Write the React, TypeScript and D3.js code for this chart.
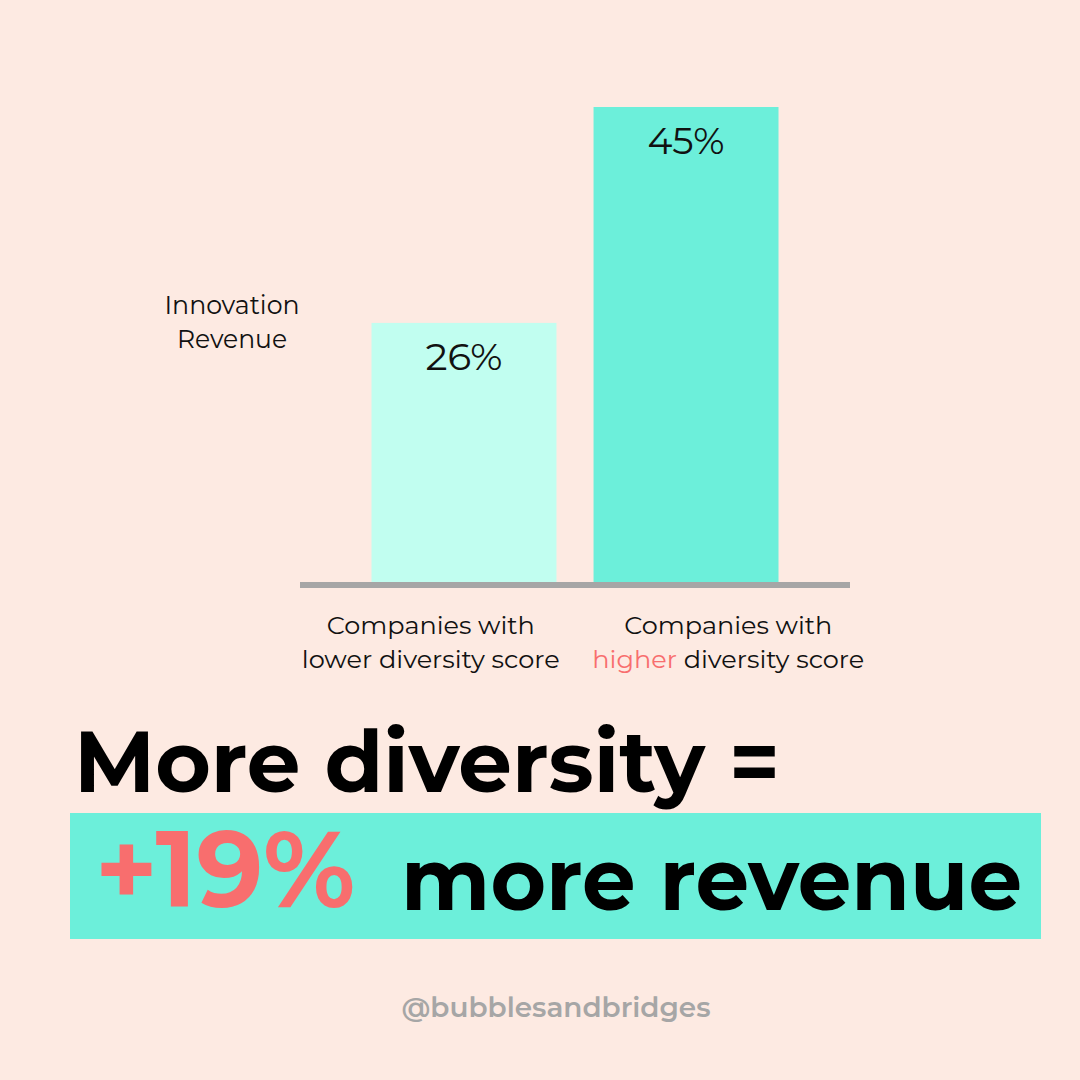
import React from "react";
import * as d3 from "d3";

const categories = ["lower", "higher"];
const values = [26, 45];
const valueLabels = ["26%", "45%"];
const catLine1 = ["Companies with", "Companies with"];
const catLine2Highlight = ["", "higher"];
const catLine2Rest = ["lower diversity score", " diversity score"];
const yAxisTitle = ["Innovation", "Revenue"];
const headline1 = "More diversity =";
const headlineNum = "+19%";
const headlineRest = "more revenue";
const handle = "@bubblesandbridges";

const BG = "#FDEAE2";
const BAR_COLORS = ["#C1FEF0", "#6CEFDA"];
const TEAL = "#6CEFDA";
const CORAL = "#F86E6E";
const GRAY = "#A6A6A6";
const FONT = "Montserrat, Inter, 'DejaVu Sans', sans-serif";

export default function App() {
  const W = 1080, H = 1080;
  const x = d3.scaleBand<string>().domain(categories).range([300, 850]).paddingInner(0.167).paddingOuter(0.322);
  const y = d3.scaleLinear().domain([3.2, 45]).range([582, 107]);
  const xLabel = d3.scaleBand<string>().domain(categories).range([282, 877]).padding(0);
  const line1W = [208, 208];
  const line2W = [258, 272];

  return (
    <div style={{ position: "fixed", left: 0, top: 0, width: W, height: H }}>
      <svg width={W} height={H} style={{ display: "block" }} fontFamily={FONT}>
        <rect x={0} y={0} width={W} height={H} fill={BG} />
        {categories.map((c, i) => (
          <g key={c}>
            <rect x={x(c)} y={y(values[i])} width={x.bandwidth()} height={y(y.domain()[0]) - y(values[i])} fill={BAR_COLORS[i]} />
            <text x={(x(c) as number) + x.bandwidth() / 2} y={y(values[i]) + 47} textAnchor="middle" fontSize={37} fill="#111" textLength={77} lengthAdjust="spacingAndGlyphs">{valueLabels[i]}</text>
          </g>
        ))}
        <line x1={x.range()[0]} x2={x.range()[1]} y1={585} y2={585} stroke={GRAY} strokeWidth={6} />
        {categories.map((c, i) => {
          const cx = (xLabel(c) as number) + xLabel.bandwidth() / 2;
          return (
            <g key={c + "l"} fontSize={25} fill="#111">
              <text x={cx} y={634} textAnchor="middle" textLength={line1W[i]} lengthAdjust="spacingAndGlyphs">{catLine1[i]}</text>
              <text x={cx} y={668} textAnchor="middle" textLength={line2W[i]} lengthAdjust="spacingAndGlyphs">
                {catLine2Highlight[i] && <tspan fill={CORAL}>{catLine2Highlight[i]}</tspan>}
                <tspan>{catLine2Rest[i]}</tspan>
              </text>
            </g>
          );
        })}
        <g fontSize={26} fill="#111" textAnchor="middle">
          <text x={232} y={314} textLength={135} lengthAdjust="spacingAndGlyphs">{yAxisTitle[0]}</text>
          <text x={232} y={348} textLength={110} lengthAdjust="spacingAndGlyphs">{yAxisTitle[1]}</text>
        </g>
        <text x={74} y={792} fontSize={85} fontWeight={700} fill="#000" textLength={706} lengthAdjust="spacingAndGlyphs">{headline1}</text>
        <rect x={70} y={813} width={971} height={126} fill={TEAL} />
        <text x={95} y={907} fontSize={108} fontWeight={700} fill={CORAL} textLength={260} lengthAdjust="spacingAndGlyphs">{headlineNum}</text>
        <text x={401} y={910} fontSize={88} fontWeight={700} fill="#000" textLength={621} lengthAdjust="spacingAndGlyphs">{headlineRest}</text>
        <text x={556} y={1017} fontSize={27} fontWeight={600} fill={GRAY} textAnchor="middle" textLength={309} lengthAdjust="spacingAndGlyphs">{handle}</text>
      </svg>
    </div>
  );
}
